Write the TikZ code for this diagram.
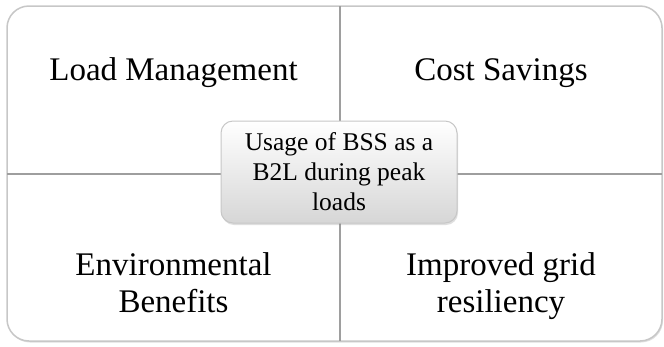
\documentclass[tikz,border=0pt]{standalone}
\usepackage{fontspec}
\setmainfont{Liberation Serif}
\usetikzlibrary{shadows}
\begin{document}
\begin{tikzpicture}[x=1pt,y=-1pt,
  frame/.style={draw=black!22, line width=1.5pt, rounded corners=22pt, fill=white,
    drop shadow={opacity=0.25, shadow xshift=1pt, shadow yshift=-1.5pt}},
  divider/.style={draw=black!38, line width=2pt},
  quad/.style={font=\fontsize{33}{37}\selectfont, align=center, text=black, inner sep=0pt},
  hub/.style={draw=black!22, line width=1pt, rounded corners=12pt, top color=white,
    bottom color=black!16, minimum width=236pt, minimum height=102pt, align=center,
    font=\fontsize{25.5}{30}\selectfont, inner sep=0pt,
    drop shadow={opacity=0.25, shadow xshift=1pt, shadow yshift=-2pt}}
]
\useasboundingbox (0,0) rectangle (664,346);
\path[frame] (7,6) rectangle (662,341);
\coordinate (vt) at (340,6);
\coordinate (vb) at (340,341);
\coordinate (hl) at (7,174);
\coordinate (hr) at (662,174);
\draw[divider] (vt) -- (vb);
\draw[divider] (hl) -- (hr);
\node[hub] (hub) at (339,172) {Usage of BSS as a\\B2L during peak\\loads};
\node[quad, anchor=base] (lm) at (173.5,80) {Load Management};
\node[quad, anchor=base] (cs) at (501,80) {Cost Savings};
\node[quad, anchor=base] (eb) at (173.5,312) {Environmental\\Benefits};
\node[quad, anchor=base] (ig) at (501,312) {Improved grid\\resiliency};
\end{tikzpicture}
\end{document}
